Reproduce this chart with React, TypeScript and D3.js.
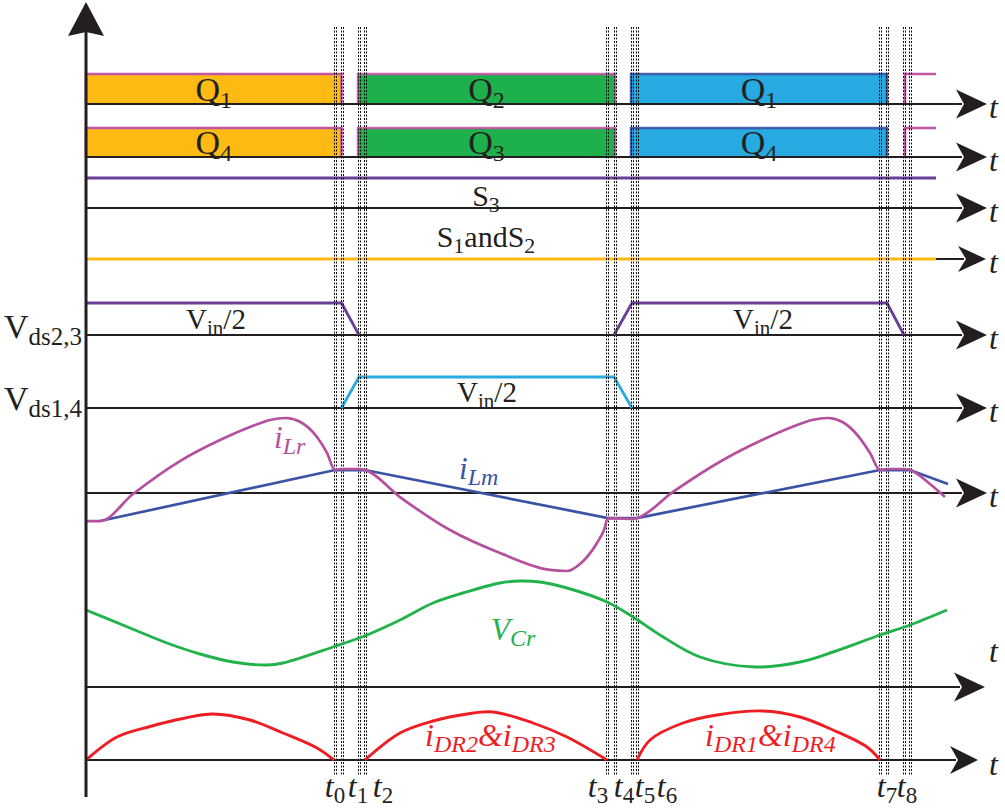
import React from 'react';
import * as d3 from 'd3';

// ---- data (time in µs, 0..17 µs window) ----
const switchTimes = [4.97, 5.11, 5.46, 5.58, 10.42, 10.58, 10.92, 11.02, 15.88, 16.02, 16.36, 16.48];
const timeLabelNames = ['0', '1', '2', '3', '4', '5', '6', '7', '8'];
const timeLabelTimes = [4.98, 5.44, 5.94, 10.24, 10.76, 11.18, 11.62, 16.02, 16.42];

const gateStarts = [0, 5.44, 10.9];
const gateEnds = [5.11, 10.58, 16.02];
const gateRestart = 16.38;
const q14Names = ['1', '2', '1'];
const q23Names = ['4', '3', '4'];

const s3Level: [number, number][] = [[0, 1], [17, 1]];
const s12Level: [number, number][] = [[0, 0], [17, 0]];

const vds23a: [number, number][] = [[0, 1], [5.11, 1], [5.46, 0]];
const vds23b: [number, number][] = [[10.56, 0], [10.92, 1], [16.02, 1], [16.36, 0]];
const vds14: [number, number][] = [[5.11, 0], [5.46, 1], [10.56, 1], [10.92, 0]];

// resonant inductor current (A)
const iLr: [number, number][] = [
  [0, -1.87], [0.28, -1.87], [0.94, -0.07], [1.88, 2.13], [2.68, 3.53], [3.28, 4.4], [3.68, 4.87], [4.0, 5.0],
  [4.28, 4.75], [4.62, 3.73], [4.82, 2.67], [4.98, 1.53], [5.1, 1.6], [5.46, 1.6], [5.58, 1.53],
  [6.28, -0.27], [7.28, -2.47], [8.28, -4.0], [9.28, -5.13], [9.62, -5.2], [9.88, -4.73], [10.22, -3.33],
  [10.36, -2.47], [10.44, -1.67], [10.92, -1.73], [11.02, -1.67],
  [11.74, 0.07], [12.74, 2.2], [13.52, 3.53], [14.12, 4.4], [14.52, 4.87], [14.84, 5.0], [15.12, 4.75],
  [15.46, 3.73], [15.68, 2.67], [15.88, 1.53], [16.02, 1.6], [16.36, 1.6], [16.48, 1.53],
  [16.88, 0.6], [17.18, -0.27],
];
// magnetizing current (A)
const iLm: [number, number][] = [
  [0.28, -1.87], [4.98, 1.53], [5.58, 1.53], [10.44, -1.67], [11.02, -1.67], [15.88, 1.53], [16.48, 1.53], [17.24, 0.6],
];
// resonant capacitor voltage (V)
const vCr: [number, number][] = [
  [0, 77], [0.88, 59], [1.62, 44], [2.28, 33], [2.94, 25], [3.62, 22], [3.94, 24], [4.94, 40], [5.62, 52],
  [6.28, 67], [6.94, 84], [7.54, 94], [8.28, 104], [8.68, 106], [9.08, 105], [9.62, 99], [10.42, 85],
  [10.94, 70], [11.48, 52], [12.28, 30], [13.38, 20], [14.28, 25], [14.94, 35], [15.88, 52], [16.48, 62], [17.22, 77],
];
// rectifier diode currents (A)
const iDR1: [number, number][] = [
  [0, 0], [0.62, 2.3], [1.28, 3.35], [1.94, 4.15], [2.54, 4.6], [3.28, 4.0], [3.94, 2.7], [4.62, 1.2], [4.96, 0],
];
const iDR2: [number, number][] = [
  [5.58, 0], [6.28, 2.7], [6.94, 3.9], [7.62, 4.6], [8.14, 4.8], [8.94, 3.7], [9.62, 2.3], [10.42, 0],
];
const iDR3: [number, number][] = [
  [11.02, 0], [11.28, 2.0], [11.94, 3.7], [12.62, 4.5], [13.54, 4.9], [14.28, 4.3], [14.94, 3.0], [15.62, 1.3], [15.88, 0],
];

// ---- styles ----
const FONT = '"Liberation Serif", Tinos, "DejaVu Serif", serif';
const INK = '#231F20';
const gateFills = ['#FDBA12', '#1EB04B', '#27A9E1'];
const gateEdges = ['#C457A4', '#C457A4', '#3953A4'];
const PINK = '#C457A4';

const x = d3.scaleLinear().domain([0, 17]).range([86, 936]);

const yQ1 = d3.scaleLinear().domain([0, 1]).range([104, 74]);
const yQ4 = d3.scaleLinear().domain([0, 1]).range([157, 128]);
const yS3 = d3.scaleLinear().domain([0, 1]).range([208, 178]);
const yS12 = d3.scaleLinear().domain([0, 1]).range([259, 229]);
const yV23 = d3.scaleLinear().domain([0, 1]).range([335, 303]);
const yV14 = d3.scaleLinear().domain([0, 1]).range([408, 377]);
const yIL = d3.scaleLinear().domain([-6, 6]).range([583, 403]);
const yVC = d3.scaleLinear().domain([0, 110]).range([687, 577]);
const yDR = d3.scaleLinear().domain([0, 5]).range([760, 710]);

function mk(ys: d3.ScaleLinear<number, number>, curve?: d3.CurveFactory) {
  const l = d3.line<[number, number]>().x((d) => x(d[0])).y((d) => ys(d[1]));
  if (curve) l.curve(curve);
  return l;
}

const T = { fontFamily: FONT } as React.CSSProperties;

function Axis({ y, tip, len = 31, half = 14.5 }: { y: number; tip: number; len?: number; half?: number }) {
  const b = tip - len;
  return (
    <g>
      <line x1={86} x2={b + 6} y1={y} y2={y} stroke={INK} strokeWidth={2} />
      <path d={`M${tip},${y} L${b},${y - half} L${b + 8},${y} L${b},${y + half} Z`} fill={INK} />
    </g>
  );
}

function GateRow({ ys, names }: { ys: d3.ScaleLinear<number, number>; names: string[] }) {
  const base = ys(0);
  const top = ys(1);
  return (
    <g>
      {gateStarts.map((s, i) => {
        const x0 = x(s);
        const x1 = x(gateEnds[i]);
        return (
          <g key={i}>
            <rect x={x0} y={top} width={x1 - x0} height={base - top} fill={gateFills[i]} />
            <path
              d={`M${x0},${base} L${x0},${top} L${x1},${top} L${x1},${base}`}
              fill="none"
              stroke={gateEdges[i]}
              strokeWidth={2.5}
              strokeOpacity={i === 0 ? 1 : 0.9}
            />
            <text x={(x0 + x1) / 2} y={base - 3} fontSize={34} textAnchor="middle" style={T} fill={INK}>
              Q<tspan fontSize={24} dy={7}>{names[i]}</tspan>
            </text>
          </g>
        );
      })}
      <path
        d={`M${x(gateRestart)},${base} L${x(gateRestart)},${top} L${x(17)},${top}`}
        fill="none"
        stroke={PINK}
        strokeWidth={2.5}
      />
    </g>
  );
}

export default function App() {
  const tl = (ts: number, name: string, i: number) => (
    <text key={i} x={x(ts)} y={797} fontSize={32} fontStyle="italic" textAnchor="middle" style={T} fill={INK}>
      t<tspan fontSize={23} fontStyle="normal" dy={6}>{name}</tspan>
    </text>
  );
  const rightT = (y: number, k: number) => (
    <text key={k} x={989} y={y} fontSize={32} fontStyle="italic" style={T} fill={INK}>t</text>
  );
  return (
    <svg width={1005} height={810} style={{ position: 'absolute', left: 0, top: 0, background: '#fff' }}>
      <rect width={1005} height={810} fill="#fff" />

      {/* gate signals */}
      <GateRow ys={yQ1} names={q14Names} />
      <GateRow ys={yQ4} names={q23Names} />

      {/* axes */}
      <Axis y={104} tip={987} />
      <Axis y={157} tip={987} />
      <Axis y={208} tip={987} />
      <Axis y={259} tip={986} len={28} half={13} />
      <Axis y={335} tip={987} />
      <Axis y={408} tip={987} />
      <Axis y={493} tip={987} />
      <Axis y={687} tip={985} />
      <Axis y={760} tip={978} len={28} half={14} />

      {/* S3, S1&S2 levels */}
      <path d={mk(yS3)(s3Level) || ''} fill="none" stroke="#6B3F98" strokeWidth={2.8} />
      <path d={mk(yS12)(s12Level) || ''} fill="none" stroke="#FDBA12" strokeWidth={3} />

      {/* Vds */}
      <path d={mk(yV23)(vds23a) || ''} fill="none" stroke="#6B3F98" strokeWidth={2.8} />
      <path d={mk(yV23)(vds23b) || ''} fill="none" stroke="#6B3F98" strokeWidth={2.8} />
      <path d={mk(yV14)(vds14) || ''} fill="none" stroke="#29ABE2" strokeWidth={2.8} />

      {/* dashed switching instants */}
      {switchTimes.map((t, i) => {
        const px = Math.round(x(t));
        return (
          <g key={i}>
            <line x1={px - 0.5} x2={px - 0.5} y1={27} y2={775} stroke="#111" strokeWidth={1} strokeDasharray="2 1.5" />
            <line x1={px + 1.5} x2={px + 1.5} y1={27} y2={775} stroke="#111" strokeWidth={1} strokeDasharray="2 1.5" />
          </g>
        );
      })}

      {/* currents and voltages */}
      <path d={mk(yIL)(iLm) || ''} fill="none" stroke="#3A53A4" strokeWidth={2.7} />
      <path d={mk(yIL, d3.curveMonotoneX)(iLr) || ''} fill="none" stroke="#B5509F" strokeWidth={2.7} />
      <path d={mk(yVC, d3.curveCatmullRom.alpha(0.5))(vCr) || ''} fill="none" stroke="#22B24C" strokeWidth={2.9} />
      {[iDR1, iDR2, iDR3].map((arc, i) => (
        <path key={i} d={mk(yDR, d3.curveCatmullRom.alpha(0.5))(arc) || ''} fill="none" stroke="#EE1D23" strokeWidth={2.9} />
      ))}

      {/* vertical axis */}
      <line x1={86} x2={86} y1={30} y2={797} stroke={INK} strokeWidth={3} />
      <path d="M86,2 L68,36 L86,32 L104,36 Z" fill={INK} />

      {/* labels */}
      <text x={x(8)} y={206} fontSize={30} textAnchor="middle" style={T} fill={INK}>
        S<tspan fontSize={22} dy={6}>3</tspan>
      </text>
      <text x={x(8)} y={247} fontSize={30} textAnchor="middle" style={T} fill={INK}>
        S<tspan fontSize={22} dy={6}>1</tspan><tspan dy={-6}>andS</tspan><tspan fontSize={22} dy={6}>2</tspan>
      </text>
      <text x={216} y={329} fontSize={29} textAnchor="middle" style={T} fill={INK}>
        V<tspan fontSize={21} dy={6}>in</tspan><tspan dy={-6}>/2</tspan>
      </text>
      <text x={763} y={329} fontSize={29} textAnchor="middle" style={T} fill={INK}>
        V<tspan fontSize={21} dy={6}>in</tspan><tspan dy={-6}>/2</tspan>
      </text>
      <text x={487} y={402} fontSize={29} textAnchor="middle" style={T} fill={INK}>
        V<tspan fontSize={21} dy={6}>in</tspan><tspan dy={-6}>/2</tspan>
      </text>
      <text x={4} y={338} fontSize={34} style={T} fill={INK}>
        V<tspan fontSize={25} dy={7}>ds2,3</tspan>
      </text>
      <text x={4} y={410} fontSize={34} style={T} fill={INK}>
        V<tspan fontSize={25} dy={7}>ds1,4</tspan>
      </text>

      <text x={274} y={448} fontSize={31} fontStyle="italic" style={T} fill="#B5509F">
        i<tspan fontSize={24} dy={6}>Lr</tspan>
      </text>
      <text x={459} y={479} fontSize={31} fontStyle="italic" style={T} fill="#3A53A4">
        i<tspan fontSize={24} dy={6}>Lm</tspan>
      </text>
      <text x={491} y={640} fontSize={31} fontStyle="italic" style={T} fill="#22B24C">
        V<tspan fontSize={24} dy={6}>Cr</tspan>
      </text>
      <text x={425} y={746} fontSize={32} fontStyle="italic" style={T} fill="#EE1D23">
        i<tspan fontSize={24} dy={6}>DR2</tspan><tspan dy={-6}>&amp;i</tspan><tspan fontSize={24} dy={6}>DR3</tspan>
      </text>
      <text x={705} y={746} fontSize={32} fontStyle="italic" style={T} fill="#EE1D23">
        i<tspan fontSize={24} dy={6}>DR1</tspan><tspan dy={-6}>&amp;i</tspan><tspan fontSize={24} dy={6}>DR4</tspan>
      </text>

      {[104, 157, 208, 259, 335, 408, 493].map((y, k) => rightT(y + 14, k))}
      {rightT(662, 20)}
      {rightT(775, 21)}

      {timeLabelTimes.map((t, i) => tl(t, timeLabelNames[i], i))}
    </svg>
  );
}
